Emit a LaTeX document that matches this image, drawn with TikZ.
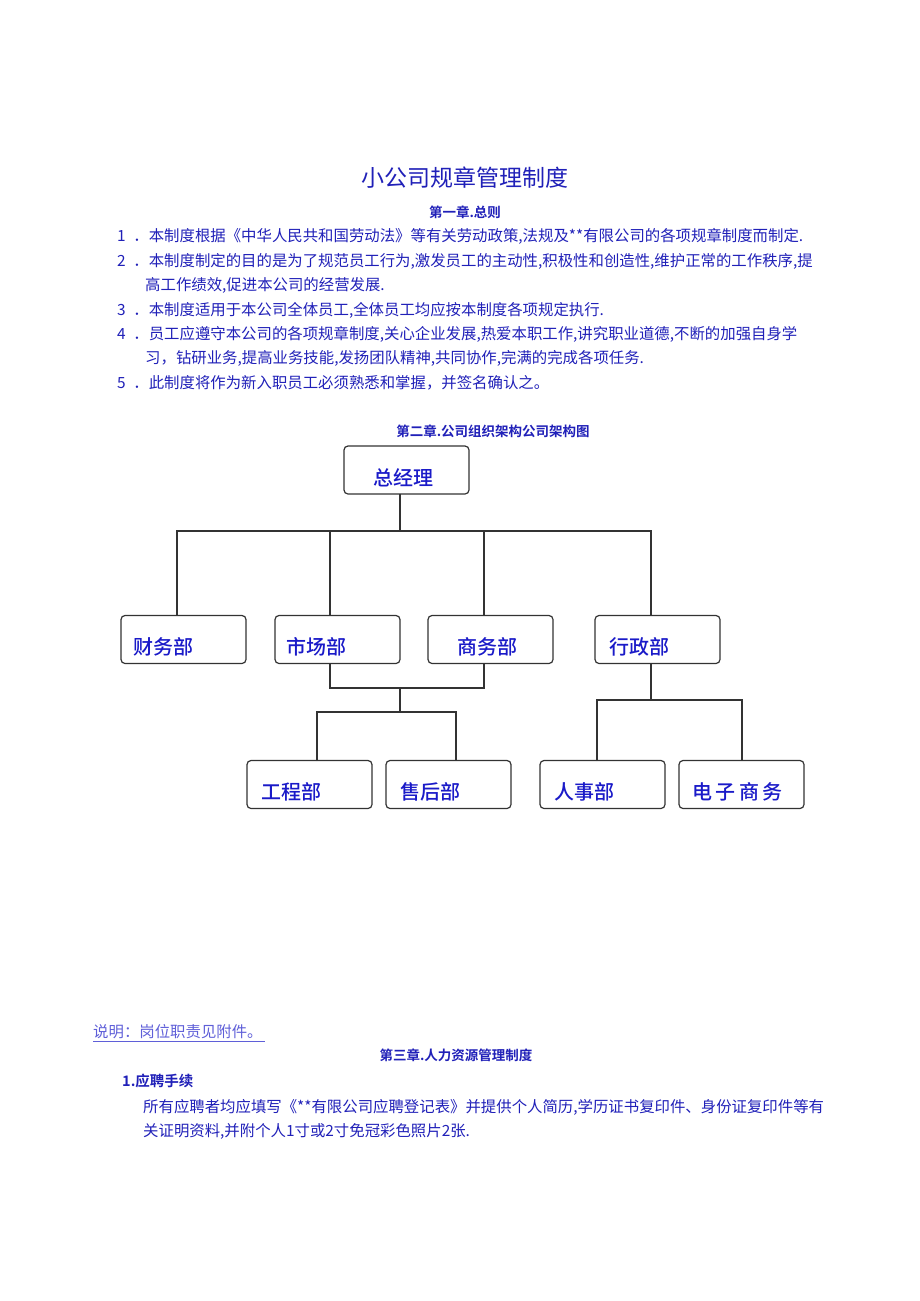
\documentclass[tikz,border=0pt]{standalone}
\usepackage{fontspec}
\setmainfont{Noto Sans CJK SC}
\newfontfamily\cjkb{Noto Sans CJK SC Bold}
\newfontfamily\cjkm{Noto Sans CJK SC Medium}
\definecolor{txt}{HTML}{2020B8}
\definecolor{lab}{HTML}{1A1AC8}
\begin{document}
\begin{tikzpicture}[x=1pt,y=-1pt,
  box/.style={draw=black!80,line width=1.2pt,rounded corners=4pt,minimum width=125pt,minimum height=48pt,inner sep=0pt},
  lbl/.style={text=lab,font=\cjkm\fontsize{20}{20}\selectfont,anchor=west},
  body/.style={text=txt,font=\fontsize{15.4}{16}\selectfont,anchor=west,inner sep=0pt},
  head/.style={text=txt,font=\cjkb\fontsize{13.5}{14}\selectfont,inner sep=0pt},
  con/.style={draw=black!80,line width=1.2pt}]
\useasboundingbox (0,0) rectangle (920,1301);
\node[text=txt,font=\fontsize{23}{24}\selectfont] (title) at (465,178) {小公司规章管理制度};
\node[head] (h1) at (465,212) {第一章.总则};
\node[body] (l1) at (117,236) {1\enspace．本制度根据《中华人民共和国劳动法》等有关劳动政策,法规及**有限公司的各项规章制度而制定.};
\node[body] (l2) at (117,261) {2\enspace．本制度制定的目的是为了规范员工行为,激发员工的主动性,积极性和创造性,维护正常的工作秩序,提};
\node[body] (l2b) at (145,285) {高工作绩效,促进本公司的经营发展.};
\node[body] (l3) at (117,310) {3\enspace．本制度适用于本公司全体员工,全体员工均应按本制度各项规定执行.};
\node[body] (l4) at (117,334) {4\enspace．员工应遵守本公司的各项规章制度,关心企业发展,热爱本职工作,讲究职业道德,不断的加强自身学};
\node[body] (l4b) at (145,358) {习，钻研业务,提高业务技能,发扬团队精神,共同协作,完满的完成各项任务.};
\node[body] (l5) at (117,383) {5\enspace．此制度将作为新入职员工必须熟悉和掌握，并签名确认之。};
\node[head] (h2) at (493,431) {第二章.公司组织架构公司架构图};

\node[box] (gm) at (406.5,470) {};
\node[lbl] at (370,478) {总经理};
\node[box] (cw) at (183.5,639.5) {};
\node[lbl] at (130,647) {财务部};
\node[box] (sc) at (337.5,639.5) {};
\node[lbl] at (283,647) {市场部};
\node[box] (sw) at (490.5,639.5) {};
\node[lbl] at (454,647) {商务部};
\node[box] (xz) at (657.5,639.5) {};
\node[lbl] at (606,647) {行政部};
\node[box] (gc) at (309.5,784.5) {};
\node[lbl] at (258,792) {工程部};
\node[box] (sh) at (448.5,784.5) {};
\node[lbl] at (397,792) {售后部};
\node[box] (rs) at (602.5,784.5) {};
\node[lbl] at (551,792) {人事部};
\node[box] (dz) at (741.5,784.5) {};
\node[lbl] at (689,792) {电\,子\,商\,务};

\coordinate (j1) at (400,531);
\coordinate (j2) at (400,688);
\coordinate (j3) at (400,712);
\coordinate (j4) at (651,700);
\draw[con] (400,494) -- (j1);
\draw[con] (177,615) -- (177,531) -- (651,531) -- (651,615);
\draw[con] (330,531) -- (330,615);
\draw[con] (484,531) -- (484,615);
\draw[con] (330,664) -- (330,688) -- (484,688) -- (484,664);
\draw[con] (j2) -- (j3);
\draw[con] (317,761) -- (317,712) -- (456,712) -- (456,761);
\draw[con] (651,664) -- (j4);
\draw[con] (597,761) -- (597,700) -- (742,700) -- (742,761);

\node[body,text=lab!70!white] (note) at (93,1032) {说明：岗位职责见附件。\,};
\draw[lab!70!white,line width=0.8pt] (note.south west)+(0,2) -- ([yshift=-2pt]note.south east);
\node[head] (h3) at (456,1055) {第三章.人力资源管理制度};
\node[head,anchor=west,font=\cjkb\fontsize{14.5}{15}\selectfont] (s1) at (122,1081) {1.应聘手续};
\node[body] (p1) at (143,1107) {所有应聘者均应填写《**有限公司应聘登记表》并提供个人简历,学历证书复印件、身份证复印件等有};
\node[body] (p2) at (143,1131) {关证明资料,并附个人1寸或2寸免冠彩色照片2张.};
\end{tikzpicture}
\end{document}
